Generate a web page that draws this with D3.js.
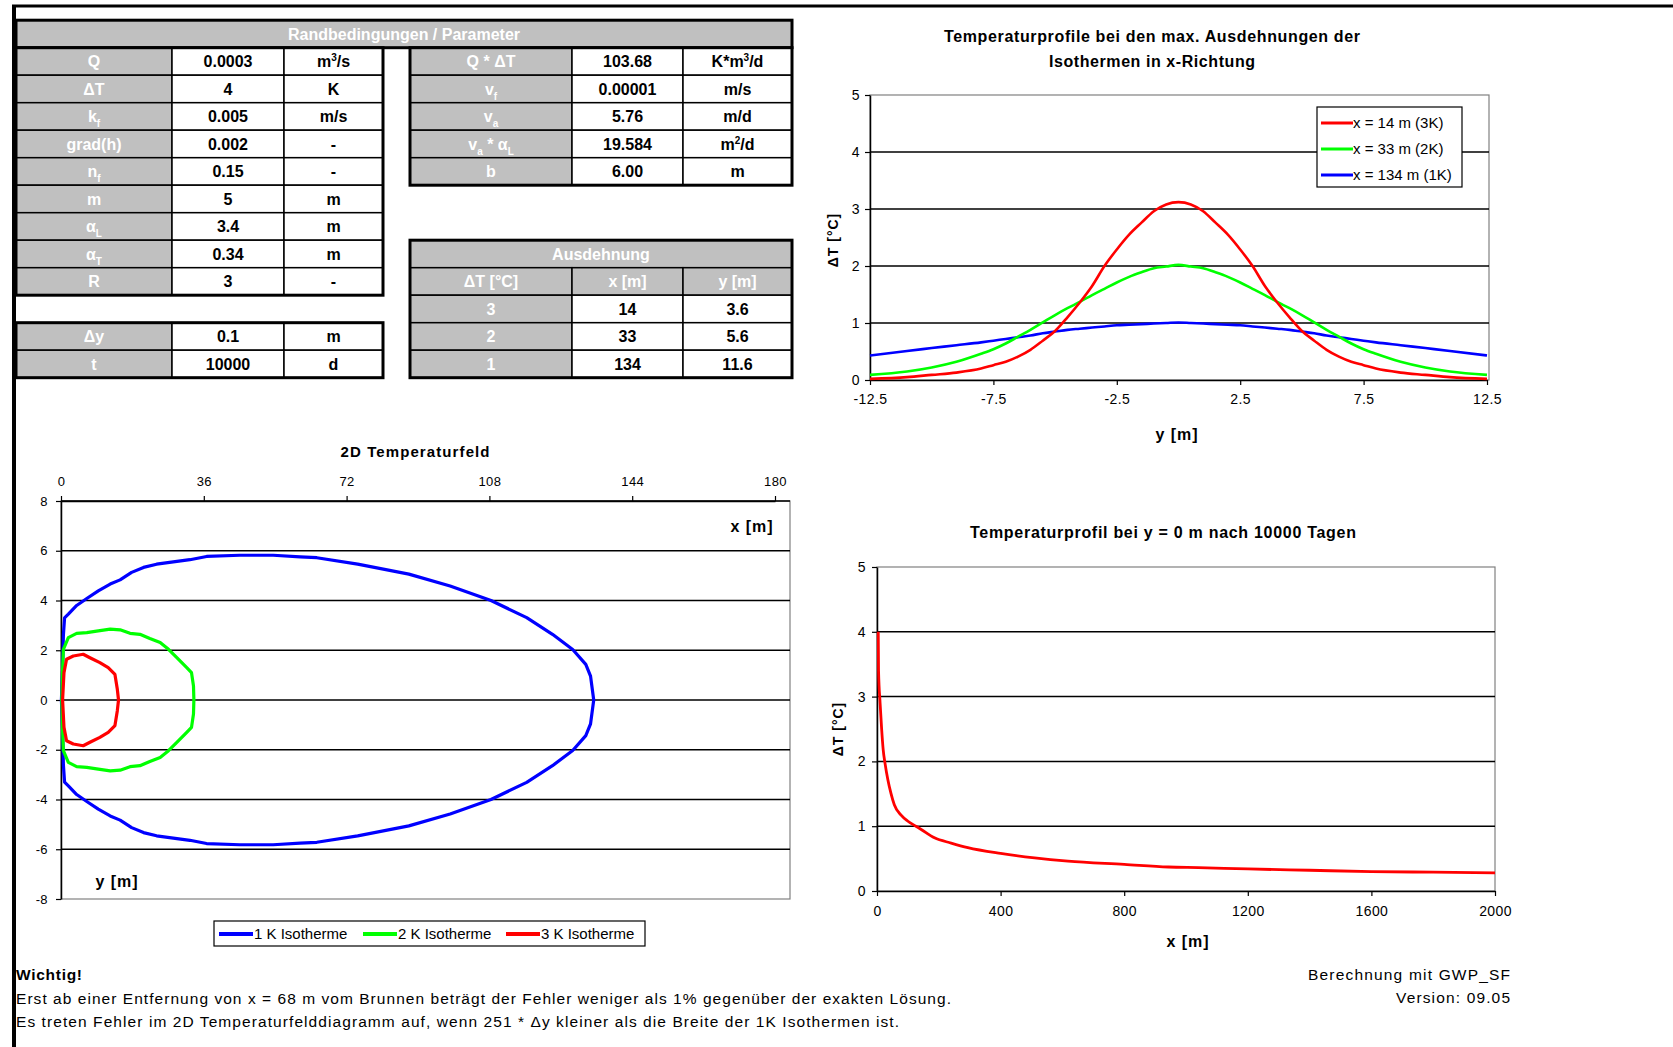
<!DOCTYPE html>
<html>
<head>
<meta charset="utf-8">
<script src="https://cdn.jsdelivr.net/npm/d3@7"></script>
<style>
  body { margin: 0; background: #fff; }
  svg { display: block; font-family: "Liberation Sans", Arial, sans-serif; }
</style>
</head>
<body>
<svg id="sheet" width="1673" height="1047"></svg>
<script>
// ---- table contents ----
var paramLabels = ["Q", "ΔT", "k_f", "grad(h)", "n_f", "m", "α_L", "α_T", "R"];
var paramValues = ["0.0003", "4", "0.005", "0.002", "0.15", "5", "3.4", "0.34", "3"];
var paramUnits = ["m^3/s", "K", "m/s", "-", "-", "m", "m", "m", "-"];

var derivedLabels = ["Q * ΔT", "v_f", "v_a", "v_a * α_L", "b"];
var derivedValues = ["103.68", "0.00001", "5.76", "19.584", "6.00"];
var derivedUnits = ["K*m^3/d", "m/s", "m/d", "m^2/d", "m"];

var gridLabels = ["Δy", "t"];
var gridValues = ["0.1", "10000"];
var gridUnits = ["m", "d"];

var extHeader = ["ΔT [°C]", "x [m]", "y [m]"];
var extDT = ["3", "2", "1"];
var extX = ["14", "33", "134"];
var extY = ["3.6", "5.6", "11.6"];

// ---- profiles across y at the max. extents ----
var profY = [-12.5, -11, -10, -9, -8, -7.5, -7, -6.5, -6, -5.5, -5, -4.5, -4, -3.5, -3, -2.5, -2, -1.5, -1, -0.5, 0,
  0.5, 1, 1.5, 2, 2.5, 3, 3.5, 4, 4.5, 5, 5.5, 6, 6.5, 7, 7.5, 8, 9, 10, 11, 12.5];
var prof3K = [0.02, 0.05, 0.09, 0.13, 0.2, 0.26, 0.32, 0.41, 0.53, 0.69, 0.86, 1.1, 1.36, 1.65, 2.0, 2.29, 2.55, 2.76, 2.96, 3.08, 3.12,
  3.08, 2.96, 2.76, 2.55, 2.29, 2.0, 1.65, 1.36, 1.1, 0.86, 0.69, 0.53, 0.41, 0.32, 0.26, 0.2, 0.13, 0.09, 0.05, 0.02];
var prof2K = [0.09, 0.15, 0.22, 0.32, 0.46, 0.54, 0.64, 0.76, 0.88, 1.01, 1.14, 1.26, 1.37, 1.49, 1.6, 1.71, 1.81, 1.89, 1.96, 1.99, 2.02,
  1.99, 1.96, 1.89, 1.81, 1.71, 1.6, 1.49, 1.37, 1.26, 1.14, 1.01, 0.88, 0.76, 0.64, 0.54, 0.46, 0.32, 0.22, 0.15, 0.09];
var prof1K = [0.43, 0.51, 0.56, 0.61, 0.66, 0.69, 0.72, 0.75, 0.78, 0.82, 0.85, 0.88, 0.9, 0.92, 0.94, 0.96, 0.97, 0.98, 0.99, 1.0, 1.01,
  1.0, 0.99, 0.98, 0.97, 0.96, 0.94, 0.92, 0.9, 0.88, 0.85, 0.82, 0.78, 0.75, 0.72, 0.69, 0.66, 0.61, 0.56, 0.51, 0.43];
var profNames = ["x = 14 m (3K)", "x = 33 m (2K)", "x = 134 m (1K)"];
var profTicks = [-12.5, -7.5, -2.5, 2.5, 7.5, 12.5];

// ---- profile along x at y = 0 ----
var axisX = [4, 5, 10, 15, 20, 26, 35, 45, 56, 78, 99, 126, 143, 186, 240, 294, 400, 510, 618, 800, 943, 1040, 1200, 1400, 1600, 1800, 2000];
var axisT = [4.0, 3.4, 2.9, 2.5, 2.18, 1.97, 1.72, 1.51, 1.33, 1.17, 1.08, 1.0, 0.95, 0.82, 0.74, 0.67, 0.58, 0.51, 0.46, 0.41, 0.37, 0.36, 0.34, 0.32, 0.30, 0.29, 0.28];
var axisTicks = [0, 400, 800, 1200, 1600, 2000];

// ---- isotherms, upper half (y >= 0), lower half is the mirror image ----
var iso1X = [0.1, 0.4, 0.6, 0.9, 1.85, 3.95, 6.5, 9.4, 12.4, 14.9, 17.8, 20.8, 24.1, 28.3, 32.5, 36.7, 45.1, 53.5, 60.3, 64.5, 74.8, 87.7, 98.1, 108.4, 117.4, 123.9, 129.0, 132.3, 133.5, 134.3];
var iso1Y = [0, 1.2, 2.6, 3.3, 3.45, 3.8, 4.08, 4.39, 4.66, 4.83, 5.13, 5.33, 5.46, 5.55, 5.64, 5.77, 5.82, 5.82, 5.75, 5.72, 5.46, 5.06, 4.58, 4.0, 3.31, 2.64, 2.03, 1.43, 0.96, 0];
var iso2X = [0.2, 0.4, 0.6, 1.85, 3.95, 6.5, 9.4, 12.4, 14.9, 17.4, 19.9, 22.4, 25, 27.1, 29.2, 31.7, 32.9, 33.4, 33.5];
var iso2Y = [0, 1.2, 2.04, 2.51, 2.68, 2.71, 2.78, 2.85, 2.82, 2.68, 2.64, 2.47, 2.31, 2.04, 1.7, 1.3, 1.1, 0.56, 0];
var iso3X = [0.4, 0.75, 1.4, 3.1, 5.6, 7.3, 9.8, 11.9, 13.6, 14.2, 14.5];
var iso3Y = [0, 1.1, 1.64, 1.77, 1.84, 1.7, 1.5, 1.3, 1.03, 0.43, 0];
var isoNames = ["1 K Isotherme", "2 K Isotherme", "3 K Isotherme"];
var fieldXTicks = [0, 36, 72, 108, 144, 180];
var fieldYTicks = [-8, -6, -4, -2, 0, 2, 4, 6, 8];

var noteTitle = "Wichtig!";
var noteLines = [
  "Erst ab einer Entfernung von x = 68 m vom Brunnen beträgt der Fehler weniger als 1% gegenüber der exakten Lösung.",
  "Es treten Fehler im 2D Temperaturfelddiagramm auf, wenn 251 * Δy kleiner als die Breite der 1K Isothermen ist."
];
var creditLines = ["Berechnung mit GWP_SF", "Version: 09.05"];

var RED = "#ff0000", GREEN = "#00ff00", BLUE = "#0000ff", SILVER = "#c0c0c0";

var svg = d3.select("#sheet");
svg.append("rect").attr("width", 1673).attr("height", 1047).attr("fill", "#fff");

// text with _x subscript and ^x superscript
function richText(sel, str, size) {
  var parts = [], buf = "";
  for (var i = 0; i < str.length; i++) {
    var ch = str[i];
    if ((ch == "_" || ch == "^") && i + 1 < str.length) {
      if (buf) parts.push({ t: buf, k: 0 });
      buf = "";
      parts.push({ t: str[i + 1], k: ch == "_" ? 1 : -1 });
      i++;
    } else buf += ch;
  }
  if (buf) parts.push({ t: buf, k: 0 });
  var cur = 0;
  parts.forEach(function (p) {
    var target = p.k == 1 ? 5 : (p.k == -1 ? -6 : 0);
    var ts = sel.append("tspan").text(p.t).attr("dy", target - cur);
    if (p.k != 0) ts.style("font-size", Math.round(size * 0.62) + "px");
    cur = target;
  });
}

// ================= tables =================
var rowTop = function (i) { return 20.2 + 27.5 * i; };
var rowH = 27.5;
var colsA = [16, 172, 284, 383];
var colsB = [410, 572, 683, 792];
var tbl = svg.append("g");

function cell(x0, x1, r, txt, grey) {
  tbl.append("rect").attr("x", x0).attr("y", rowTop(r)).attr("width", x1 - x0).attr("height", rowH)
    .attr("fill", grey ? SILVER : "#fff").attr("stroke", "#000").attr("stroke-width", 1.5);
  var t = tbl.append("text").attr("x", (x0 + x1) / 2).attr("y", rowTop(r) + rowH / 2 + 6)
    .attr("text-anchor", "middle").attr("font-weight", "bold").attr("font-size", 16)
    .attr("fill", grey ? "#fff" : "#000");
  richText(t, txt, 16);
}
function frame(x0, x1, r0, r1) {
  tbl.append("rect").attr("x", x0).attr("y", rowTop(r0)).attr("width", x1 - x0).attr("height", rowTop(r1) - rowTop(r0))
    .attr("fill", "none").attr("stroke", "#000").attr("stroke-width", 3);
}

// header across both tables
cell(colsA[0], colsB[3], 0, "Randbedingungen / Parameter", true);
frame(colsA[0], colsB[3], 0, 1);

paramLabels.forEach(function (d, i) {
  cell(colsA[0], colsA[1], i + 1, d, true);
  cell(colsA[1], colsA[2], i + 1, paramValues[i], false);
  cell(colsA[2], colsA[3], i + 1, paramUnits[i], false);
});
frame(colsA[0], colsA[3], 1, 10);

derivedLabels.forEach(function (d, i) {
  cell(colsB[0], colsB[1], i + 1, d, true);
  cell(colsB[1], colsB[2], i + 1, derivedValues[i], false);
  cell(colsB[2], colsB[3], i + 1, derivedUnits[i], false);
});
frame(colsB[0], colsB[3], 1, 6);

gridLabels.forEach(function (d, i) {
  cell(colsA[0], colsA[1], i + 11, d, true);
  cell(colsA[1], colsA[2], i + 11, gridValues[i], false);
  cell(colsA[2], colsA[3], i + 11, gridUnits[i], false);
});
frame(colsA[0], colsA[3], 11, 13);

cell(colsB[0], colsB[3], 8, "Ausdehnung", true);
extHeader.forEach(function (d, i) { cell(colsB[i], colsB[i + 1], 9, d, true); });
extDT.forEach(function (d, i) {
  cell(colsB[0], colsB[1], i + 10, d, true);
  cell(colsB[1], colsB[2], i + 10, extX[i], false);
  cell(colsB[2], colsB[3], i + 10, extY[i], false);
});
frame(colsB[0], colsB[3], 8, 13);

// ---- shared helpers ----
var plain = function (d) { return String(d); };  // keeps the ASCII hyphen, no thousands comma

function styleAxis(g, size) {
  g.attr("font-family", null).attr("font-size", null);
  g.selectAll("text").attr("font-size", size).attr("fill", "#000").attr("letter-spacing", 0.4);
  g.selectAll("line").attr("stroke", "#000").attr("stroke-width", 1.2);
  g.select(".domain").attr("stroke", "#000").attr("stroke-width", 1.5);
}
function boldText(x, y, txt, size, anchor, len) {
  var t = svg.append("text").attr("x", x).attr("y", y).attr("text-anchor", anchor || "middle")
    .attr("font-weight", "bold").attr("font-size", size).text(txt);
  if (len) t.attr("textLength", len).attr("lengthAdjust", "spacing");
  return t;
}
function axisTitle(x, y, txt) {
  return boldText(x, y, txt, 16).attr("letter-spacing", 1);
}

// ================= chart 1: profiles across y =================
(function () {
  var left = 870, right = 1489, top = 95, bottom = 380;
  var x = d3.scaleLinear().domain([-12.5, 12.5]).range([left, 1487]);
  var y = d3.scaleLinear().domain([0, 5]).range([bottom, top]);
  var g = svg.append("g");

  g.append("rect").attr("x", left).attr("y", top).attr("width", right - left).attr("height", bottom - top)
    .attr("fill", "#fff").attr("stroke", "#808080").attr("stroke-width", 1.2);
  g.selectAll("line.grid").data([1, 2, 3, 4]).enter().append("line")
    .attr("x1", left).attr("x2", right).attr("y1", function (d) { return y(d); }).attr("y2", function (d) { return y(d); })
    .attr("stroke", "#000").attr("stroke-width", 1.5);

  var ax = g.append("g").attr("transform", "translate(0," + bottom + ")")
    .call(d3.axisBottom(x).tickValues(profTicks).tickFormat(plain).tickSize(5).tickSizeOuter(0).tickPadding(9));
  styleAxis(ax, 14);
  var ay = g.append("g").attr("transform", "translate(" + left + ",0)")
    .call(d3.axisLeft(y).ticks(5).tickFormat(plain).tickSize(5).tickSizeOuter(0).tickPadding(5));
  styleAxis(ay, 14);

  var series = [prof3K, prof2K, prof1K], colors = [RED, GREEN, BLUE];
  var line = d3.line().x(function (d) { return x(d[0]); }).y(function (d) { return y(d[1]); }).curve(d3.curveMonotoneX);
  [2, 1, 0].forEach(function (k) {
    g.append("path").attr("d", line(d3.zip(profY, series[k])))
      .attr("fill", "none").attr("stroke", colors[k]).attr("stroke-width", 2.6);
  });

  // legend
  var lg = g.append("g").attr("transform", "translate(1317,107)");
  lg.append("rect").attr("width", 145).attr("height", 80).attr("fill", "#fff").attr("stroke", "#000").attr("stroke-width", 1.2);
  profNames.forEach(function (n, i) {
    var yy = 16 + i * 26;
    lg.append("line").attr("x1", 4).attr("x2", 36).attr("y1", yy).attr("y2", yy).attr("stroke", colors[i]).attr("stroke-width", 3);
    lg.append("text").attr("x", 36).attr("y", yy + 5).attr("font-size", 15).text(n);
  });

  boldText(1152, 42, "Temperaturprofile bei den max. Ausdehnungen der", 16, "middle", 416);
  boldText(1152, 67, "Isothermen in x-Richtung", 16, "middle", 206);
  axisTitle(1177, 440, "y [m]");
  axisTitle(0, 0, "ΔT [°C]").attr("font-size", 14).attr("transform", "translate(838,240) rotate(-90)");
})();

// ================= chart 2: 2D temperature field =================
(function () {
  var left = 61, right = 790, top = 501, bottom = 899;
  var x = d3.scaleLinear().domain([0, 180]).range([left, 775]);
  var y = d3.scaleLinear().domain([-8, 8]).range([bottom, top]);
  var g = svg.append("g");

  g.append("rect").attr("x", left).attr("y", top).attr("width", right - left).attr("height", bottom - top)
    .attr("fill", "#fff").attr("stroke", "#808080").attr("stroke-width", 1.2);
  g.selectAll("line.grid").data([-6, -4, -2, 0, 2, 4, 6]).enter().append("line")
    .attr("x1", left).attr("x2", right).attr("y1", function (d) { return y(d); }).attr("y2", function (d) { return y(d); })
    .attr("stroke", "#000").attr("stroke-width", 1.5);

  var ax = g.append("g").attr("transform", "translate(0," + top + ")")
    .call(d3.axisTop(x).tickValues(fieldXTicks).tickFormat(plain).tickSize(5).tickSizeOuter(0).tickPadding(10));
  styleAxis(ax, 13);
  g.append("line").attr("x1", left).attr("x2", right).attr("y1", top).attr("y2", top).attr("stroke", "#000").attr("stroke-width", 1.5);
  var ay = g.append("g").attr("transform", "translate(" + left + ",0)")
    .call(d3.axisLeft(y).tickValues(fieldYTicks).tickFormat(plain).tickSize(5).tickSizeOuter(0).tickPadding(8));
  styleAxis(ay, 13);

  var line = d3.line().x(function (d) { return x(d[0]); }).y(function (d) { return y(d[1]); }).curve(d3.curveLinearClosed);
  function loop(xs, ys) {
    var up = d3.zip(xs, ys);
    var down = up.slice(1, -1).reverse().map(function (p) { return [p[0], -p[1]]; });
    return up.concat(down);
  }
  var loops = [[iso1X, iso1Y], [iso2X, iso2Y], [iso3X, iso3Y]], colors = [BLUE, GREEN, RED];
  loops.forEach(function (l, i) {
    g.append("path").attr("d", line(loop(l[0], l[1])))
      .attr("fill", "none").attr("stroke", colors[i]).attr("stroke-width", 3.2).attr("stroke-linejoin", "round");
  });

  axisTitle(752, 532, "x [m]");
  axisTitle(117, 887, "y [m]");
  boldText(415, 457, "2D Temperaturfeld", 15, "middle", 149);

  // legend
  var lg = svg.append("g").attr("transform", "translate(214,921)");
  lg.append("rect").attr("width", 431).attr("height", 25).attr("fill", "#fff").attr("stroke", "#000").attr("stroke-width", 1.2);
  var offs = [5, 149, 292];
  isoNames.forEach(function (n, i) {
    lg.append("line").attr("x1", offs[i]).attr("x2", offs[i] + 34).attr("y1", 13).attr("y2", 13)
      .attr("stroke", colors[i]).attr("stroke-width", 4);
    lg.append("text").attr("x", offs[i] + 35).attr("y", 18).attr("font-size", 15).text(n);
  });
})();

// ================= chart 3: profile along x =================
(function () {
  var left = 877, right = 1495, top = 567, bottom = 891;
  var x = d3.scaleLinear().domain([0, 2000]).range([left, right]);
  var y = d3.scaleLinear().domain([0, 5]).range([bottom, top]);
  var g = svg.append("g");

  g.append("rect").attr("x", left).attr("y", top).attr("width", right - left).attr("height", bottom - top)
    .attr("fill", "#fff").attr("stroke", "#808080").attr("stroke-width", 1.2);
  g.selectAll("line.grid").data([1, 2, 3, 4]).enter().append("line")
    .attr("x1", left).attr("x2", right).attr("y1", function (d) { return y(d); }).attr("y2", function (d) { return y(d); })
    .attr("stroke", "#000").attr("stroke-width", 1.5);

  var ax = g.append("g").attr("transform", "translate(0," + bottom + ")")
    .call(d3.axisBottom(x).tickValues(axisTicks).tickFormat(plain).tickSize(5).tickSizeOuter(0).tickPadding(10));
  styleAxis(ax, 14);
  var ay = g.append("g").attr("transform", "translate(" + left + ",0)")
    .call(d3.axisLeft(y).ticks(5).tickFormat(plain).tickSize(5).tickSizeOuter(0).tickPadding(6));
  styleAxis(ay, 14);

  var line = d3.line().x(function (d) { return x(d[0]); }).y(function (d) { return y(d[1]); }).curve(d3.curveMonotoneX);
  g.append("path").attr("d", line(d3.zip(axisX, axisT)))
    .attr("fill", "none").attr("stroke", RED).attr("stroke-width", 2.8);

  boldText(1163, 538, "Temperaturprofil bei y = 0 m nach 10000 Tagen", 16, "middle", 386);
  axisTitle(1188, 947, "x [m]");
  axisTitle(0, 0, "ΔT [°C]").attr("font-size", 14).attr("transform", "translate(843,729) rotate(-90)");
})();

// ================= notes =================
boldText(16, 980, noteTitle, 15.5, "start", 66);
var noteLens = [935, 883];
noteLines.forEach(function (t, i) {
  svg.append("text").attr("x", 16).attr("y", 1004 + i * 22.5).attr("font-size", 15.5)
    .attr("textLength", noteLens[i]).attr("lengthAdjust", "spacing").text(t);
});
var creditLens = [202, 114];
creditLines.forEach(function (t, i) {
  svg.append("text").attr("x", 1510 - creditLens[i]).attr("y", 980 + i * 23).attr("font-size", 15.5)
    .attr("textLength", creditLens[i]).attr("lengthAdjust", "spacing").text(t);
});

// page border
svg.append("line").attr("x1", 12).attr("x2", 1673).attr("y1", 6).attr("y2", 6).attr("stroke", "#000").attr("stroke-width", 3);
svg.append("line").attr("x1", 14).attr("x2", 14).attr("y1", 5).attr("y2", 1047).attr("stroke", "#000").attr("stroke-width", 4);
</script>
</body>
</html>
